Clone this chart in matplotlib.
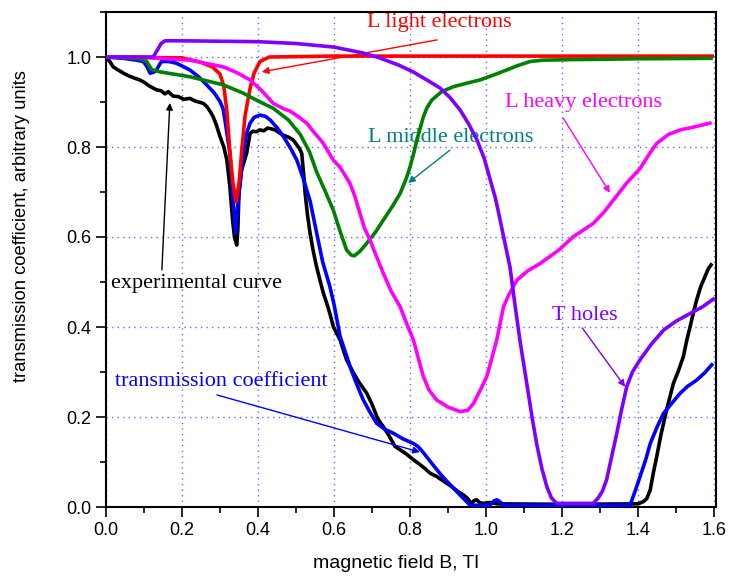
import numpy as np
import matplotlib
matplotlib.use('Agg')
import matplotlib.pyplot as plt
from matplotlib.ticker import MultipleLocator

plt.rcParams.update({
    'font.family': 'Liberation Sans',
    'font.size': 13,
    'xtick.labelsize': 13,
    'ytick.labelsize': 13,
})

# Experimental curve (black)
exp_B = [0.0, 0.01, 0.019, 0.03, 0.046, 0.06, 0.075, 0.089, 0.10, 0.115, 0.133, 0.145,
         0.155, 0.164, 0.17, 0.177, 0.19, 0.205, 0.221, 0.235, 0.248, 0.256, 0.265,
         0.275, 0.282, 0.29, 0.30, 0.31, 0.318, 0.326, 0.333, 0.338, 0.344, 0.347,
         0.350, 0.357, 0.37, 0.379, 0.387, 0.396, 0.405, 0.415, 0.425, 0.432, 0.445,
         0.455, 0.467, 0.48, 0.492, 0.502, 0.51, 0.515, 0.52, 0.524, 0.53, 0.537,
         0.545, 0.554, 0.563, 0.572, 0.58, 0.589, 0.598, 0.616, 0.633, 0.65, 0.665,
         0.686, 0.70, 0.715, 0.73, 0.745, 0.76, 0.774, 0.79, 0.809, 0.825, 0.84,
         0.853, 0.87, 0.88, 0.896, 0.91, 0.925, 0.94, 0.95, 0.962, 0.968, 0.975,
         0.983, 0.993, 1.01, 1.03, 1.2, 1.4, 1.414, 1.423, 1.432, 1.44, 1.449, 1.46,
         1.475, 1.493, 1.505, 1.519, 1.528, 1.537, 1.545, 1.554, 1.565, 1.575, 1.585,
         1.592]
exp_T = [1.0, 0.99, 0.978, 0.972, 0.964, 0.958, 0.953, 0.949, 0.944, 0.935, 0.927, 0.925,
         0.918, 0.923, 0.918, 0.913, 0.912, 0.906, 0.908, 0.902, 0.899, 0.897, 0.89,
         0.878, 0.867, 0.85, 0.823, 0.80, 0.771, 0.712, 0.638, 0.60, 0.582, 0.62,
         0.70, 0.75, 0.786, 0.83, 0.835, 0.834, 0.838, 0.836, 0.842, 0.841, 0.838,
         0.832, 0.826, 0.822, 0.816, 0.805, 0.795, 0.786, 0.74, 0.697, 0.65, 0.608,
         0.57, 0.534, 0.504, 0.475, 0.455, 0.43, 0.401, 0.371, 0.327, 0.30, 0.278,
         0.253, 0.228, 0.196, 0.178, 0.158, 0.135, 0.127, 0.118, 0.105, 0.095, 0.085,
         0.075, 0.068, 0.062, 0.053, 0.045, 0.035, 0.027, 0.02, 0.008, 0.014, 0.016,
         0.01, 0.008, 0.01, 0.007, 0.006, 0.007, 0.012, 0.019, 0.038, 0.075, 0.112, 0.16,
         0.216, 0.275, 0.30, 0.334, 0.37, 0.401, 0.43, 0.46, 0.49, 0.51, 0.53, 0.538]

# Calculated transmission coefficient (blue)
calc_B = [0.0, 0.046, 0.08, 0.098, 0.107, 0.116, 0.125, 0.133, 0.14, 0.146, 0.165, 0.186,
          0.205, 0.221, 0.245, 0.265, 0.285, 0.30, 0.308, 0.313, 0.32, 0.326, 0.335,
          0.341, 0.348, 0.355, 0.361, 0.37, 0.379, 0.39, 0.405, 0.42, 0.432, 0.45,
          0.467, 0.485, 0.502, 0.519, 0.537, 0.554, 0.57, 0.589, 0.60, 0.616, 0.633,
          0.642, 0.66, 0.677, 0.695, 0.712, 0.735, 0.756, 0.78, 0.809, 0.82, 0.831,
          0.845, 0.861, 0.88, 0.896, 0.905, 0.93, 0.958, 1.01, 1.02, 1.028, 1.036,
          1.046, 1.379, 1.39, 1.405, 1.42, 1.432, 1.45, 1.467, 1.49, 1.511, 1.53,
          1.554, 1.575, 1.594]
calc_T = [1.0, 0.997, 0.993, 0.99, 0.98, 0.964, 0.966, 0.971, 0.982, 0.99, 0.99, 0.986,
          0.978, 0.971, 0.955, 0.938, 0.92, 0.901, 0.885, 0.86, 0.82, 0.786, 0.675,
          0.608, 0.682, 0.74, 0.786, 0.83, 0.853, 0.866, 0.871, 0.868, 0.86, 0.843,
          0.823, 0.798, 0.771, 0.73, 0.68, 0.61, 0.545, 0.49, 0.45, 0.379, 0.336,
          0.312, 0.272, 0.238, 0.21, 0.186, 0.172, 0.164, 0.152, 0.141, 0.135, 0.125,
          0.11, 0.093, 0.073, 0.058, 0.05, 0.028, 0.004, 0.004, 0.013, 0.016, 0.012,
          0.004, 0.004, 0.03, 0.067, 0.105, 0.141, 0.178, 0.208, 0.232, 0.253, 0.268,
          0.282, 0.298, 0.316]

# L light electrons (red)
light_B = [0.0, 0.2, 0.247, 0.28, 0.30, 0.31, 0.318, 0.326, 0.334, 0.342, 0.35, 0.358,
           0.366, 0.379, 0.39, 0.405, 0.43, 0.6, 1.595]
light_T = [1.0, 0.998, 0.989, 0.978, 0.962, 0.935, 0.88, 0.79, 0.72, 0.678, 0.72, 0.8,
           0.87, 0.93, 0.965, 0.99, 1.0, 1.002, 1.002]

# L middle electrons (green)
middle_B = [0.0, 0.05, 0.09, 0.107, 0.12, 0.142, 0.221, 0.309, 0.36, 0.396, 0.44, 0.48,
            0.511, 0.535, 0.554, 0.575, 0.598, 0.615, 0.633, 0.645, 0.653, 0.668,
            0.686, 0.71, 0.73, 0.755, 0.774, 0.79, 0.80, 0.81, 0.818, 0.835, 0.845,
            0.857, 0.883, 0.914, 0.95, 0.984, 1.02, 1.054, 1.08, 1.116, 1.15, 1.212,
            1.4, 1.592]
middle_T = [1.0, 0.998, 0.996, 0.99, 0.972, 0.967, 0.956, 0.938, 0.92, 0.904, 0.886,
            0.86, 0.828, 0.79, 0.745, 0.705, 0.66, 0.615, 0.571, 0.56, 0.558, 0.568,
            0.586, 0.612, 0.638, 0.67, 0.697, 0.73, 0.756, 0.787, 0.816, 0.867, 0.888,
            0.904, 0.923, 0.934, 0.942, 0.949, 0.96, 0.971, 0.98, 0.99, 0.993, 0.994,
            0.996, 0.997]

# L heavy electrons (magenta)
heavy_B = [0.0, 0.1, 0.221, 0.309, 0.345, 0.379, 0.41, 0.44, 0.467, 0.484, 0.505, 0.528,
           0.55, 0.572, 0.598, 0.616, 0.642, 0.655, 0.668, 0.68, 0.695, 0.71, 0.73,
           0.75, 0.774, 0.79, 0.809, 0.822, 0.835, 0.85, 0.87, 0.9, 0.932, 0.952,
           0.967, 0.985, 1.002, 1.015, 1.028, 1.046, 1.059, 1.081, 1.11, 1.142, 1.19,
           1.23, 1.282, 1.31, 1.335, 1.37, 1.405, 1.43, 1.449, 1.48, 1.511, 1.55, 1.589]
heavy_T = [1.0, 0.999, 0.993, 0.978, 0.965, 0.949, 0.925, 0.897, 0.885, 0.88, 0.868,
           0.853, 0.83, 0.808, 0.771, 0.755, 0.719, 0.69, 0.653, 0.62, 0.593, 0.56,
           0.519, 0.48, 0.445, 0.41, 0.371, 0.33, 0.29, 0.26, 0.238, 0.222, 0.212,
           0.215, 0.23, 0.26, 0.29, 0.33, 0.371, 0.445, 0.47, 0.504, 0.525, 0.541,
           0.57, 0.601, 0.63, 0.655, 0.682, 0.72, 0.752, 0.785, 0.808, 0.828, 0.838,
           0.845, 0.853]

# T holes (violet)
holes_B = [0.0, 0.10, 0.124, 0.135, 0.145, 0.155, 0.2, 0.3, 0.4, 0.5, 0.6, 0.676, 0.72,
           0.77, 0.808, 0.85, 0.879, 0.905, 0.932, 0.955, 0.976, 0.995, 1.011, 1.025,
           1.037, 1.05, 1.063, 1.076, 1.089, 1.107, 1.12, 1.133, 1.147, 1.16, 1.172,
           1.186, 1.282, 1.295, 1.306, 1.317, 1.33, 1.344, 1.357, 1.37, 1.385, 1.405,
           1.435, 1.467, 1.50, 1.537, 1.57, 1.598]
holes_T = [1.0, 1.0, 1.0, 1.015, 1.03, 1.036, 1.036, 1.035, 1.034, 1.03, 1.022, 1.009,
           0.998, 0.982, 0.967, 0.946, 0.931, 0.91, 0.882, 0.85, 0.816, 0.775, 0.727,
           0.685, 0.638, 0.585, 0.533, 0.45, 0.371, 0.275, 0.205, 0.141, 0.085, 0.045,
           0.02, 0.008, 0.008, 0.02, 0.035, 0.06, 0.11, 0.164, 0.218, 0.267, 0.3,
           0.327, 0.362, 0.393, 0.413, 0.43, 0.445, 0.462]

fig = plt.figure(figsize=(7.29, 5.77), dpi=100)
ax = fig.add_axes([106/729, 70/577, 610/729, 495/577])

lw = 2.6
ax.plot(exp_B, exp_T, color='black', lw=lw, zorder=3)
ax.plot(calc_B, calc_T, color='#0000ff', lw=lw, zorder=4)
ax.plot(light_B, light_T, color='#ff0000', lw=lw, zorder=5)
ax.plot(middle_B, middle_T, color='#008000', lw=lw, zorder=5)
ax.plot(heavy_B, heavy_T, color='#ff00ff', lw=lw, zorder=6)
ax.plot(holes_B, holes_T, color='#8000ff', lw=lw, zorder=6)

# Labels with arrows
serif = 'Liberation Serif'
fs = 16
arrow = dict(arrowstyle='-|>', lw=1.0, mutation_scale=10, shrinkA=0, shrinkB=0)

ax.text(0.687, 1.077, 'L light electrons', color='#ff0000', family=serif, fontsize=fs,
        va='center', ha='left')
ax.annotate('', xy=(0.41, 0.967), xytext=(0.871, 1.038),
            arrowprops=dict(arrow, color='#ff0000'))

ax.text(0.69, 0.822, 'L middle electrons', color='#008080', family=serif, fontsize=fs,
        va='center', ha='left')
ax.annotate('', xy=(0.795, 0.72), xytext=(0.905, 0.793),
            arrowprops=dict(arrow, color='#008080'))

ax.text(1.05, 0.898, 'L heavy electrons', color='#ff00ff', family=serif, fontsize=fs,
        va='center', ha='left')
ax.annotate('', xy=(1.326, 0.698), xytext=(1.203, 0.864),
            arrowprops=dict(arrow, color='#ff00ff'))

ax.text(1.174, 0.426, 'T holes', color='#8000ff', family=serif, fontsize=fs,
        va='center', ha='left')
ax.annotate('', xy=(1.366, 0.267), xytext=(1.253, 0.398),
            arrowprops=dict(arrow, color='#8000ff'))

ax.text(0.013, 0.496, 'experimental curve', color='black', family=serif, fontsize=fs,
        va='center', ha='left')
ax.annotate('', xy=(0.168, 0.898), xytext=(0.147, 0.527),
            arrowprops=dict(arrow, color='black'))

ax.text(0.024, 0.278, 'transmission coefficient', color='#0000ff', family=serif,
        fontsize=fs, va='center', ha='left')
ax.annotate('', xy=(0.826, 0.122), xytext=(0.292, 0.249),
            arrowprops=dict(arrow, color='#0000ff'))

ax.set_xlim(0, 1.605)
ax.set_ylim(0, 1.1)
ax.set_xticks(np.arange(0, 1.61, 0.2))
ax.set_yticks(np.arange(0, 1.01, 0.2))
ax.xaxis.set_minor_locator(MultipleLocator(0.1))
ax.yaxis.set_minor_locator(MultipleLocator(0.1))
ax.tick_params(which='major', direction='out', length=7, width=1.2)
ax.tick_params(which='minor', direction='out', length=4, width=1.2)
ax.grid(True, which='major', color='#6666ff', linestyle=(0, (1, 3)), linewidth=1.0)
for s in ax.spines.values():
    s.set_linewidth(1.5)

ax.set_xlabel('magnetic field B, Tl', fontsize=14)
ax.xaxis.set_label_coords((396 - 106) / 610, -(563 - 507) / 495)
ax.xaxis.label.set_va('center')
ax.set_ylabel('transmission coefficient, arbitrary units', fontsize=13.2)
ax.yaxis.set_label_coords((22 - 106) / 610, (507 - 226) / 495)
ax.yaxis.label.set_va('center')

fig.savefig('out.png', dpi=100)
